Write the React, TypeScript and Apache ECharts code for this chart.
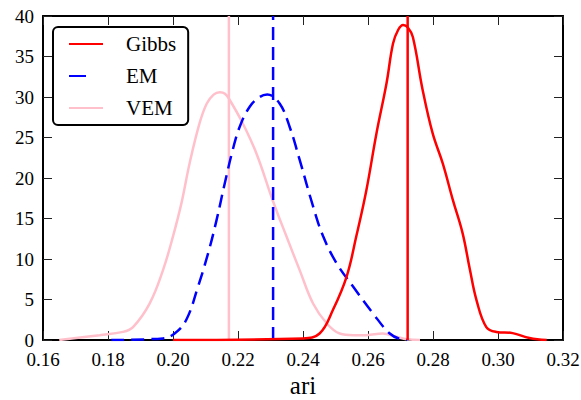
import React, { useEffect, useRef } from "react";
import * as echarts from "echarts";

const seriesNames = ["Gibbs", "EM", "VEM"];

const gibbsX = [0.2, 0.24, 0.2451, 0.2492, 0.2534, 0.2564, 0.2595, 0.2626, 0.2657, 0.2677, 0.2693, 0.2708, 0.2722, 0.2738, 0.2768, 0.2799, 0.283, 0.2861, 0.2891, 0.2913, 0.2934, 0.2964, 0.2995, 0.3045, 0.3097, 0.315];
const gibbsY = [0, 0.2, 0.8, 3.7, 7.8, 12.8, 18.5, 25.5, 31.7, 36.6, 38.3, 38.9, 38.6, 37.4, 30.9, 25.5, 21.8, 17.3, 13.2, 8.8, 4.9, 1.6, 1.0, 0.85, 0.25, 0];

const emX = [0.181, 0.1969, 0.2005, 0.2041, 0.2077, 0.2108, 0.2134, 0.2159, 0.2184, 0.2205, 0.2236, 0.2267, 0.229, 0.2328, 0.2359, 0.239, 0.2431, 0.2462, 0.2503, 0.2554, 0.2615, 0.2667, 0.27, 0.272];
const emY = [0, 0.2, 0.8, 2.5, 6.6, 10.7, 14.8, 19.3, 23.5, 26.3, 28.8, 30.0, 30.3, 29.2, 26.3, 22.2, 16.5, 12.8, 9.5, 6.6, 3.3, 0.8, 0.1, 0];

const vemX = [0.165, 0.1774, 0.1846, 0.1877, 0.1928, 0.1969, 0.2, 0.2026, 0.2051, 0.2082, 0.2104, 0.2125, 0.2144, 0.216, 0.2175, 0.2214, 0.2257, 0.2308, 0.2349, 0.239, 0.2431, 0.2472, 0.2513, 0.2555, 0.2595, 0.2645, 0.2687, 0.272, 0.276];
const vemY = [0, 0.6, 1.0, 1.6, 4.5, 8.6, 12.8, 16.9, 21.8, 26.8, 29.2, 30.3, 30.6, 30.4, 29.6, 26.8, 23.0, 17.1, 12.8, 8.6, 4.5, 2.1, 0.8, 0.6, 0.6, 0.8, 0.4, 0.1, 0];

const means = [0.2722, 0.2308, 0.2172];
const yRange = [0, 40];
const colors = ["#ff0000", "#0000ff", "#ffc0cb"];

const FONT = "Liberation Serif, Nimbus Roman, FreeSerif, Noto Serif, Times, serif";

function pairs(xs: number[], ys: number[]) {
  return xs.map((x, i) => [x, ys[i]]);
}

export default function App() {
  const ref = useRef<HTMLDivElement>(null);
  useEffect(() => {
    if (!ref.current) return;
    const chart = echarts.init(ref.current, null, { renderer: "svg" });
    const datas = [pairs(gibbsX, gibbsY), pairs(emX, emY), pairs(vemX, vemY)];
    const dash = [13, 7];
    const series: any[] = [];
    seriesNames.forEach((name, i) => {
      series.push({
        name,
        type: "line",
        data: datas[i],
        symbol: "none",
        smooth: 0.4,
        lineStyle: { color: colors[i], width: 2.5, type: i === 1 ? dash : "solid" },
        itemStyle: { color: colors[i] },
        z: 3 - i,
      });
      series.push({
        name: name + " mean",
        type: "line",
        data: yRange.map((y) => [means[i], y]),
        symbol: "none",
        silent: true,
        lineStyle: { color: colors[i], width: 2.5, type: i === 1 ? dash : "solid" },
        itemStyle: { color: colors[i] },
        z: 3 - i,
      });
    });
    const common = {
      type: "value",
      min: 0.16,
      max: 0.32,
      interval: 0.02,
      splitLine: { show: false },
      axisTick: { show: true, inside: true, length: 9, lineStyle: { color: "#222", width: 1 } },
    };
    chart.setOption({
      animation: false,
      backgroundColor: "#ffffff",
      textStyle: { fontFamily: FONT },
      grid: { left: 43, right: 18, top: 16, bottom: 60, containLabel: false, outerBoundsMode: "none" },
      legend: {
        orient: "vertical",
        left: 53,
        top: 27,
        backgroundColor: "#ffffff",
        borderColor: "#000",
        borderWidth: 2,
        borderRadius: 5,
        padding: [6, 12, 6, 15],
        itemGap: 10,
        itemWidth: 34,
        itemHeight: 12,
        itemStyle: { opacity: 0 },
        textStyle: { fontFamily: FONT, fontSize: 21, color: "#000", lineHeight: 22, padding: [0, 0, 0, 18] },
        data: [
          { name: "Gibbs" },
          { name: "EM", lineStyle: { type: [17, 30] } },
          { name: "VEM" },
        ],
      },
      xAxis: [
        {
          ...common,
          position: "bottom",
          name: "ari",
          nameLocation: "middle",
          nameGap: 23,
          nameTextStyle: { fontFamily: FONT, fontSize: 25, color: "#000" },
          axisLine: { show: true, onZero: false, lineStyle: { color: "#000", width: 2 } },
          axisLabel: { fontFamily: FONT, fontSize: 19, lineHeight: 14, color: "#000", margin: 12, formatter: (v: number) => v.toFixed(2) },
        },
        {
          ...common,
          position: "top",
          axisLine: { show: true, onZero: false, lineStyle: { color: "#000", width: 2 } },
          axisLabel: { show: false },
        },
      ],
      yAxis: [
        {
          type: "value",
          min: 0,
          max: 40,
          interval: 5,
          position: "left",
          splitLine: { show: false },
          axisLine: { show: true, onZero: false, lineStyle: { color: "#000", width: 2 } },
          axisTick: { show: true, inside: true, length: 9, lineStyle: { color: "#222", width: 1 } },
          axisLabel: { fontFamily: FONT, fontSize: 19, lineHeight: 14, color: "#000", margin: 9 },
        },
        {
          type: "value",
          min: 0,
          max: 40,
          interval: 5,
          position: "right",
          splitLine: { show: false },
          axisLine: { show: true, onZero: false, lineStyle: { color: "#000", width: 2 } },
          axisTick: { show: true, inside: true, length: 9, lineStyle: { color: "#222", width: 1 } },
          axisLabel: { show: false },
        },
      ],
      series,
    });
    return () => chart.dispose();
  }, []);
  return (
    <div
      ref={ref}
      style={{ position: "fixed", left: 0, top: 0, width: 581, height: 400 }}
    />
  );
}
